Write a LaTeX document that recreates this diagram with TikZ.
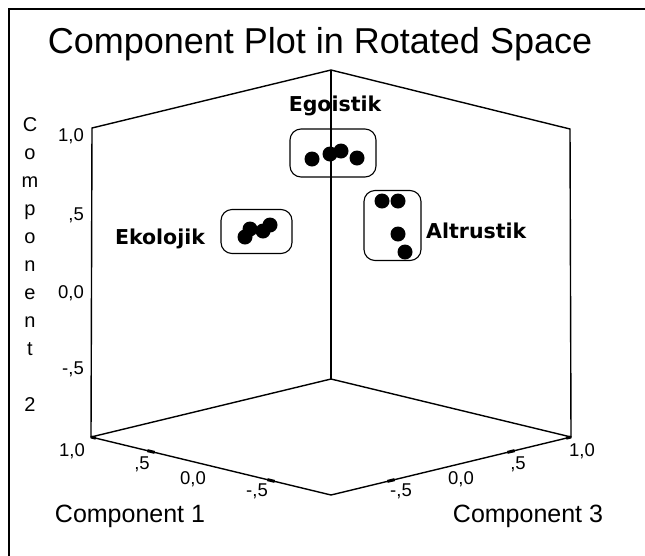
\documentclass[tikz,border=0pt]{standalone}
\usepackage{fontspec}
\setmainfont{Liberation Sans}
\newfontfamily\lblfont{DejaVu Sans}
\usetikzlibrary{calc}
\tikzset{
  edge/.style={line width=1.4pt, line cap=round},
  tickmark/.style={line width=3pt},
  dot/.style={circle, fill=black, inner sep=0pt, minimum size=15pt},
  clusterbox/.style={draw, line width=1.1pt, rounded corners=11pt, inner sep=0pt},
  clusterlbl/.style={font=\lblfont\bfseries\fontsize{20.5}{20.5}\selectfont, anchor=base, inner sep=0pt},
  ticklbl/.style={font=\fontsize{18.5}{18.5}\selectfont, anchor=base, inner sep=0pt},
  axlbl/.style={font=\fontsize{25}{25}\selectfont, anchor=base, inner sep=0pt},
  vlet/.style={font=\fontsize{20}{20}\selectfont, anchor=base, inner sep=0pt},
}
\begin{document}
\begin{tikzpicture}[x=1pt,y=-1pt]
\useasboundingbox (0,0) rectangle (645,555);
\fill[white] (0,0) rectangle (645,555);
% frame
\coordinate (fb) at (9,560);
\coordinate (fc) at (9,9);
\coordinate (fr) at (650,9);
\draw[line width=2pt] (fb) -- (fc) -- (fr);
% title
\node[font=\fontsize{36}{36}\selectfont, anchor=base, inner sep=0pt] (title) at (320,53) {Component Plot in Rotated Space};
% box corners
\coordinate (T) at (331,70);
\coordinate (LT) at (92,128);
\coordinate (RT) at (570,129);
\coordinate (C) at (331,379);
\coordinate (LB) at (91,437);
\coordinate (RB) at (571,437);
\coordinate (F) at (331,495);
\draw[edge] (LB) -- (LT) -- (T) -- (RT) -- (RB);
\draw[line width=2pt] (T) -- (C);
\draw[edge] (LB) -- (C) -- (RB);
\draw[edge] (LB) -- (F) -- (RB);
% tick marks
\draw[tickmark] ($(LB)!0.235!(F)$) -- ($(LB)!0.265!(F)$);
\draw[tickmark] ($(LB)!0.735!(F)$) -- ($(LB)!0.765!(F)$);
\draw[tickmark] ($(F)!0.235!(RB)$) -- ($(F)!0.265!(RB)$);
\draw[tickmark] ($(F)!0.735!(RB)$) -- ($(F)!0.765!(RB)$);
\draw[tickmark] (LB) -- ($(LB)!0.02!(F)$);
\draw[tickmark] ($(F)!0.98!(RB)$) -- (RB);
% vertical axis labels
\node[ticklbl, anchor=base east] (v1) at (84,141) {1,0};
\node[ticklbl, anchor=base east] (v2) at (84,220) {,5};
\node[ticklbl, anchor=base east] (v3) at (84,298) {0,0};
\node[ticklbl, anchor=base east] (v4) at (84,374) {-,5};
% bottom tick labels
\node[ticklbl] (l1) at (72,456) {1,0};
\node[ticklbl] (l2) at (142,469) {,5};
\node[ticklbl] (l3) at (193,484) {0,0};
\node[ticklbl] (l4) at (257,496) {-,5};
\node[ticklbl] (r4) at (401,496) {-,5};
\node[ticklbl] (r3) at (461,484) {0,0};
\node[ticklbl] (r2) at (518,469) {,5};
\node[ticklbl] (r1) at (582,456) {1,0};
\node[axlbl] (c1) at (130,522) {Component 1};
\node[axlbl] (c3) at (528,522) {Component 3};
% vertical axis title
\node[vlet] (a1) at (30,131.5) {C};
\node[vlet] (a2) at (30,159.5) {o};
\node[vlet] (a3) at (30,187.5) {m};
\node[vlet] (a4) at (30,215.5) {p};
\node[vlet] (a5) at (30,243.5) {o};
\node[vlet] (a6) at (30,271.5) {n};
\node[vlet] (a7) at (30,299.5) {e};
\node[vlet] (a8) at (30,327.5) {n};
\node[vlet] (a9) at (30,355.5) {t};
\node[vlet] (a10) at (30,411.5) {2};
% clusters
\node[clusterbox, minimum width=86pt, minimum height=48pt] (egobox) at (333,153) {};
\node[clusterbox, minimum width=71pt, minimum height=44pt] (ekobox) at (256.5,231.5) {};
\node[clusterbox, minimum width=57pt, minimum height=70pt] (altbox) at (392.5,225.5) {};
\node[dot] (e1) at (312,159) {};
\node[dot] (e2) at (330,154) {};
\node[dot] (e3) at (341,151) {};
\node[dot] (e4) at (357,158) {};
\node[dot] (k1) at (245,237) {};
\node[dot] (k2) at (250,229) {};
\node[dot] (k3) at (263,231) {};
\node[dot] (k4) at (270,225) {};
\node[dot] (t1) at (382,201) {};
\node[dot] (t2) at (398,201) {};
\node[dot] (t3) at (398,234) {};
\node[dot] (t4) at (405,252) {};
\node[clusterlbl] (egolbl) at (335,111) {Egoistik};
\node[clusterlbl] (ekolbl) at (160,244) {Ekolojik};
\node[clusterlbl, anchor=base west] (altlbl) at (426,238) {Altrustik};
\end{tikzpicture}
\end{document}
